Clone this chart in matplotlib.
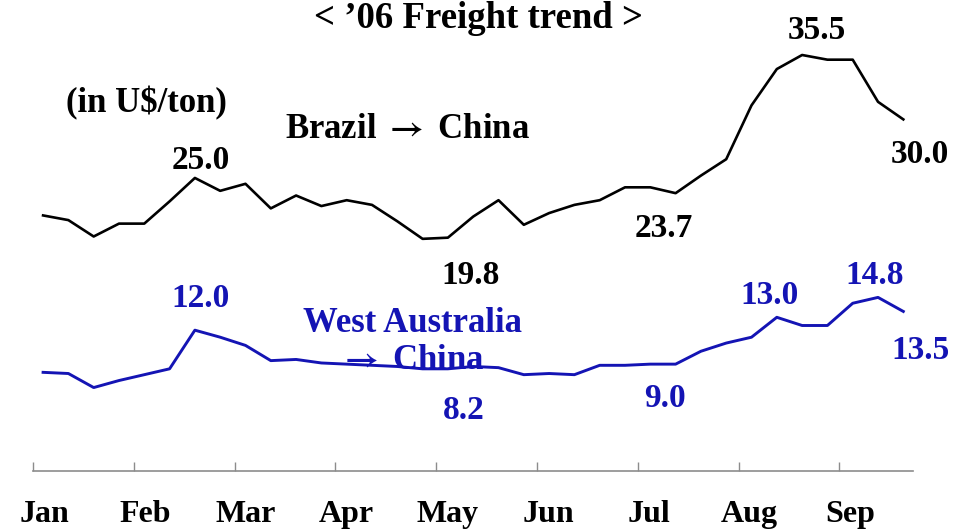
import numpy as np
import matplotlib
matplotlib.use('Agg')
import matplotlib.pyplot as plt

# weekly freight rates, U$/ton, Jan..Sep 2006
brazil = [21.8, 21.4, 20.0, 21.1, 21.1, 23.0, 25.0, 23.9, 24.5, 22.4,
          23.5, 22.6, 23.1, 22.7, 21.3, 19.8, 19.9, 21.7, 23.1, 21.0,
          22.0, 22.7, 23.1, 24.2, 24.2, 23.7, 25.2, 26.6, 31.2, 34.3,
          35.5, 35.1, 35.1, 31.5, 30.0]
w_australia = [8.4, 8.3, 7.1, 7.7, 8.2, 8.7, 12.0, 11.4, 10.7, 9.4,
               9.5, 9.2, 9.1, 9.0, 8.9, 8.7, 8.7, 8.9, 8.8, 8.2,
               8.3, 8.2, 9.0, 9.0, 9.1, 9.1, 10.2, 10.9, 11.4, 13.1,
               12.4, 12.4, 14.3, 14.8, 13.6]
months = ['Jan', 'Feb', 'Mar', 'Apr', 'May', 'Jun', 'Jul', 'Aug', 'Sep']

# callouts: (text, x in months, y in U$/ton)
brazil_labels = [('25.0', 1.66, 26.45), ('19.8', 4.34, 16.7),
                 ('23.7', 6.26, 20.7), ('35.5', 7.78, 37.6),
                 ('30.0', 8.80, 26.96)]
wa_labels = [('12.0', 1.66, 14.7), ('8.2', 4.27, 5.18),
             ('9.0', 6.27, 6.2), ('13.0', 7.31, 15.0),
             ('14.8', 8.35, 16.7), ('13.5', 8.80, 10.3)]

BLUE = '#1414B4'
plt.rcParams['font.family'] = ['Liberation Serif', 'DejaVu Serif']
plt.rcParams['font.weight'] = 'bold'
plt.rcParams['mathtext.fontset'] = 'stix'

fig = plt.figure(figsize=(9.57, 5.31), dpi=100)
ax = fig.add_axes([33 / 957, 1 - 470.7 / 531, 880 / 957, 468.4 / 531])

# weeks -> months along x
x = 0.1 + np.arange(len(brazil)) * 0.251
ax.plot(x, brazil, color='black', lw=1.9)
ax.plot(x, w_australia, color=BLUE, lw=2.1)

ax.set_xlim(0, 8.73)
ax.set_ylim(0, 40)
for s in ['top', 'right', 'left']:
    ax.spines[s].set_visible(False)
ax.spines['bottom'].set_color('#8c8c8c')
ax.spines['bottom'].set_linewidth(1.2)
ax.set_yticks([])
ax.set_xticks(np.arange(9))
ax.set_xticklabels([])
ax.tick_params(axis='x', which='major', direction='in', length=6.5,
               width=1, color='#8c8c8c')
ax.set_xticks(np.arange(9) + 0.11, minor=True)
ax.set_xticklabels(months, minor=True, fontsize=23, fontweight='bold')
ax.tick_params(axis='x', which='minor', length=0, pad=21)

fs = 24
for t, xx, yy in brazil_labels:
    ax.text(xx, yy, t, ha='center', va='center', fontsize=fs,
            color='black', clip_on=False)
for t, xx, yy in wa_labels:
    ax.text(xx, yy, t, ha='center', va='center', fontsize=fs,
            color=BLUE, clip_on=False)

ax.text(1.13, 31.4, '(in U$/ton)', ha='center', va='center', fontsize=25)
ax.text(3.72, 29.1, r'Brazil $\rightarrow$ China', ha='center',
        va='center', fontsize=25)
ax.text(3.76, 12.6, 'West Australia', ha='center', va='center',
        fontsize=25, color=BLUE)
ax.text(3.76, 9.45, r'$\rightarrow$ China', ha='center', va='center',
        fontsize=25, color=BLUE)

fig.text(0.5, 1 - 1 / 531, "< \u201906 Freight trend >", ha='center',
         va='top', fontsize=26.5, fontweight='bold')

fig.savefig('out.png', dpi=100)
